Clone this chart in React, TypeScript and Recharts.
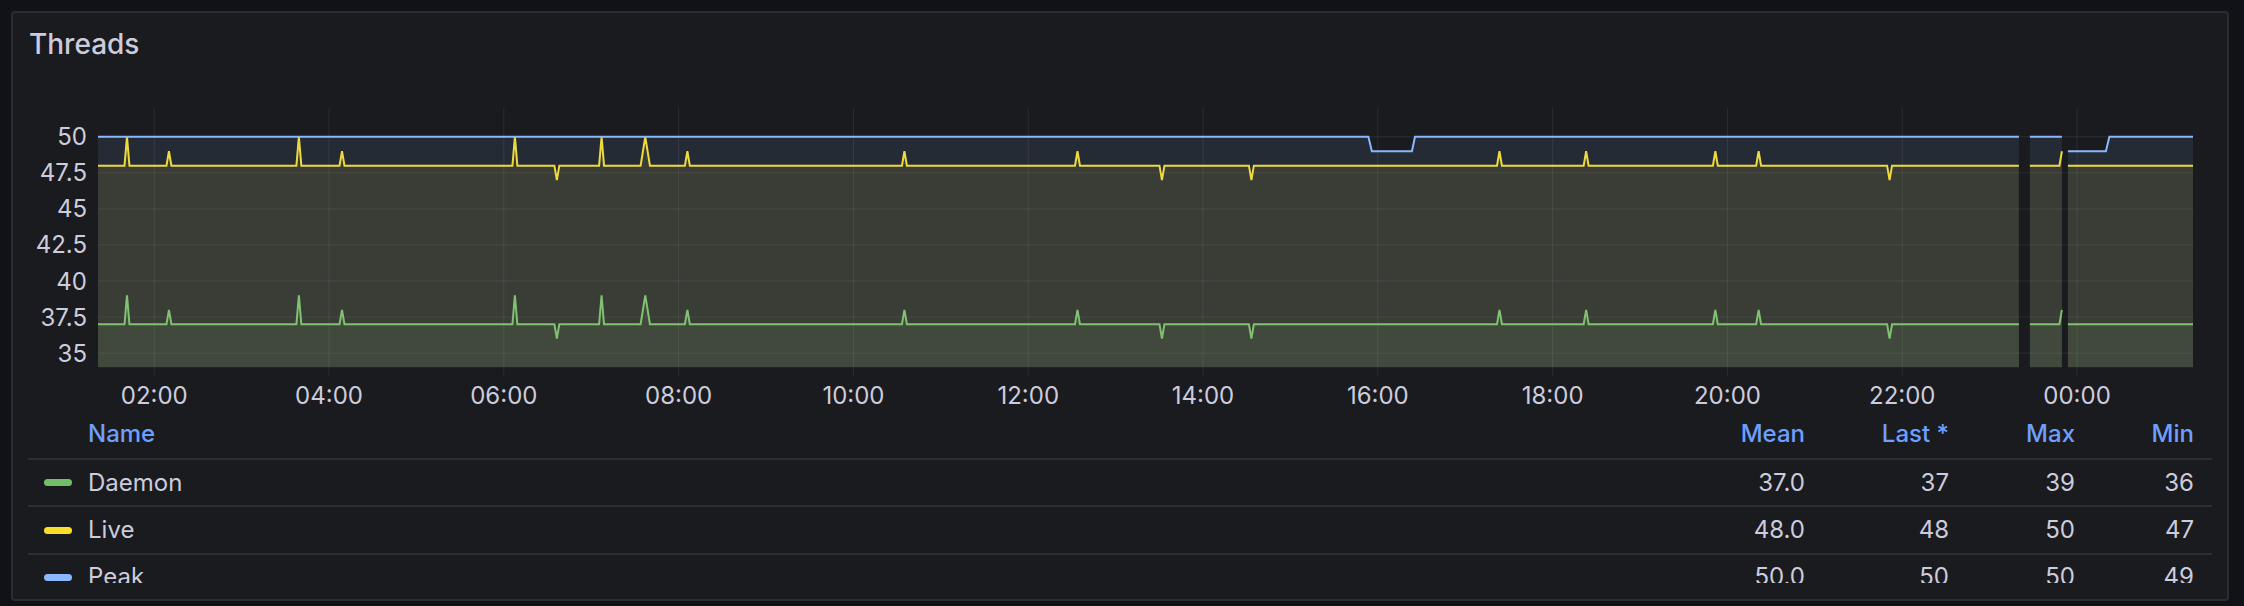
import { ComposedChart, Area, XAxis, YAxis, CartesianGrid } from 'recharts';

// minutes after midnight (day 1)
const threadTimes = [
    81.4,
    99.6, 101.3, 103.0,
    128.4, 130.1, 131.8,
    217.6, 219.3, 221.0,
    247.2, 248.9, 250.6,
    365.9, 367.6, 369.3,
    394.7, 396.4, 398.1,
    425.4, 427.1, 428.8,
    453.9, 457.1, 460.3,
    484.3, 486.0, 487.7,
    633.3, 635.0, 636.7,
    752.1, 753.8, 755.5,
    810.1, 811.8, 813.5,
    871.5, 873.2, 874.9,
    1041.8, 1043.5, 1045.2,
    1101.3, 1103.0, 1104.7,
    1190.0, 1191.7, 1193.4,
    1219.7, 1221.4, 1223.1,
    1309.6, 1311.3, 1313.0,
    1400.1, 1403.8, 1407.6,
    1427.9, 1429.6, 1431.6, 1433.7,
    1519.6,
];

const liveThreads = [
    48,
    48, 50, 48,
    48, 49, 48,
    48, 50, 48,
    48, 49, 48,
    48, 50, 48,
    48, 47, 48,
    48, 50, 48,
    48, 50, 48,
    48, 49, 48,
    48, 49, 48,
    48, 49, 48,
    48, 47, 48,
    48, 47, 48,
    48, 49, 48,
    48, 49, 48,
    48, 49, 48,
    48, 49, 48,
    48, 47, 48,
    48, null, 48,
    48, 49, null, 48,
    48,
];

const daemonThreads = [
    37,
    37, 39, 37,
    37, 38, 37,
    37, 39, 37,
    37, 38, 37,
    37, 39, 37,
    37, 36, 37,
    37, 39, 37,
    37, 39, 37,
    37, 38, 37,
    37, 38, 37,
    37, 38, 37,
    37, 36, 37,
    37, 36, 37,
    37, 38, 37,
    37, 38, 37,
    37, 38, 37,
    37, 38, 37,
    37, 36, 37,
    37, null, 37,
    37, 38, null, 37,
    37,
];

const peakTimes = [81.4, 953.5, 955.9, 983.4, 985.5, 1400.1, 1403.8, 1407.6, 1429.6, 1431.6, 1433.7, 1459.8, 1462.2, 1519.6];
const peakThreads = [50, 50, 49, 49, 50, 50, null, 50, 50, null, 49, 49, 50, 50];

const xTicks = [120, 240, 360, 480, 600, 720, 840, 960, 1080, 1200, 1320, 1440];
const yTicks = [35, 37.5, 40, 42.5, 45, 47.5, 50];

const seriesNames = ['Daemon', 'Live', 'Peak'];
const seriesColors = ['#73bf69', '#fade2a', '#8ab8ff'];
const statHeaders = ['Mean', 'Last *', 'Max', 'Min'];
const meanValues = ['37.0', '48.0', '50.0'];
const lastValues = ['37', '48', '50'];
const maxValues = ['39', '50', '50'];
const minValues = ['36', '47', '49'];

const TEXT = '#ccccdc';
const GRID = 'rgba(204, 204, 220, 0.1)';
const colRight = [1805, 1949, 2075, 2194];
const rowCenters = [482.7, 530, 577];
const dividers = [459, 506, 553.7];

const daemonData = threadTimes.map((t, i) => ({ t, v: daemonThreads[i] }));
const liveData = threadTimes.map((t, i) => ({ t, v: liveThreads[i] }));
const peakData = peakTimes.map((t, i) => ({ t, v: peakThreads[i] }));

const fmtTime = (m: number) => String(Math.floor(m / 60) % 24).padStart(2, '0') + ':00';

function Cell({ text, right, center, color = TEXT, weight = 400 }: any) {
    return (
        <div
            style={{
                position: 'absolute',
                right: 2244 - right,
                top: center - 12,
                height: 24,
                lineHeight: '24px',
                fontSize: 24,
                fontWeight: weight,
                color,
                whiteSpace: 'nowrap',
            }}
        >
            {text}
        </div>
    );
}

export default function App() {
    const stats = [meanValues, lastValues, maxValues, minValues];
    return (
        <div
            style={{
                position: 'absolute',
                left: 0,
                top: 0,
                width: 2244,
                height: 606,
                background: '#111217',
                fontFamily: 'Inter, sans-serif',
                overflow: 'hidden',
            }}
        >
            <div
                style={{
                    position: 'absolute',
                    left: 11,
                    top: 11,
                    width: 2218,
                    height: 590,
                    boxSizing: 'border-box',
                    border: '2px solid #2a2c31',
                    borderRadius: 4,
                    background: '#1a1b1f',
                }}
            />
            <div
                style={{
                    position: 'absolute',
                    left: 29,
                    top: 30,
                    fontSize: 28,
                    lineHeight: '28px',
                    fontWeight: 500,
                    color: TEXT,
                }}
            >
                Threads
            </div>

            <div style={{ position: 'absolute', left: 0, top: 0 }}>
                <ComposedChart
                    width={2244}
                    height={420}
                    margin={{ top: 108, right: 51, bottom: 12.5, left: 0 }}
                    style={{ fontFamily: 'Inter, sans-serif' }}
                >
                    <CartesianGrid stroke={GRID} strokeWidth={1} syncWithTicks />
                    <XAxis
                        dataKey="t"
                        type="number"
                        domain={[81.4, 1519.6]}
                        ticks={xTicks}
                        interval={0}
                        tickFormatter={fmtTime}
                        axisLine={false}
                        tickLine={{ stroke: GRID }}
                        tickSize={8}
                        tickMargin={11}
                        height={40}
                        tick={{ fill: TEXT, fontSize: 24 }}
                        allowDataOverflow
                    />
                    <YAxis
                        type="number"
                        domain={[34, 52]}
                        ticks={yTicks}
                        interval={0}
                        axisLine={false}
                        tickLine={false}
                        tickSize={0}
                        tickMargin={11}
                        width={98}
                        tick={{ fill: TEXT, fontSize: 24 }}
                        allowDataOverflow
                    />
                    <Area
                        data={daemonData}
                        dataKey="v"
                        type="linear"
                        stroke={seriesColors[0]}
                        strokeWidth={2}
                        fill={seriesColors[0]}
                        fillOpacity={0.1}
                        dot={false}
                        activeDot={false}
                        isAnimationActive={false}
                    />
                    <Area
                        data={liveData}
                        dataKey="v"
                        type="linear"
                        stroke={seriesColors[1]}
                        strokeWidth={2}
                        fill={seriesColors[1]}
                        fillOpacity={0.1}
                        dot={false}
                        activeDot={false}
                        isAnimationActive={false}
                    />
                    <Area
                        data={peakData}
                        dataKey="v"
                        type="linear"
                        stroke={seriesColors[2]}
                        strokeWidth={2}
                        fill={seriesColors[2]}
                        fillOpacity={0.1}
                        dot={false}
                        activeDot={false}
                        isAnimationActive={false}
                    />
                </ComposedChart>
            </div>

            {/* legend table, clipped at the bottom like the panel */}
            <div style={{ position: 'absolute', left: 0, top: 0, width: 2244, height: 583, overflow: 'hidden' }}>
                <div
                    style={{
                        position: 'absolute',
                        left: 88,
                        top: 422,
                        height: 24,
                        lineHeight: '24px',
                        fontSize: 24,
                        fontWeight: 500,
                        color: '#6e9fff',
                    }}
                >
                    Name
                </div>
                {statHeaders.map((h, i) => (
                    <Cell key={h} text={h} right={colRight[i]} center={434} color="#6e9fff" weight={500} />
                ))}
                {dividers.map((y) => (
                    <div
                        key={y}
                        style={{ position: 'absolute', left: 28, top: y - 1, width: 2184, height: 2, background: '#2c2e33' }}
                    />
                ))}
                {seriesNames.map((name, r) => (
                    <div key={name}>
                        <div
                            style={{
                                position: 'absolute',
                                left: 44,
                                top: rowCenters[r] - 3.5,
                                width: 28,
                                height: 7,
                                borderRadius: 4,
                                background: seriesColors[r],
                            }}
                        />
                        <div
                            style={{
                                position: 'absolute',
                                left: 88,
                                top: rowCenters[r] - 12,
                                height: 24,
                                lineHeight: '24px',
                                fontSize: 24,
                                color: TEXT,
                            }}
                        >
                            {name}
                        </div>
                        {stats.map((col, c) => (
                            <Cell key={c} text={col[r]} right={colRight[c]} center={rowCenters[r]} />
                        ))}
                    </div>
                ))}
            </div>
        </div>
    );
}
